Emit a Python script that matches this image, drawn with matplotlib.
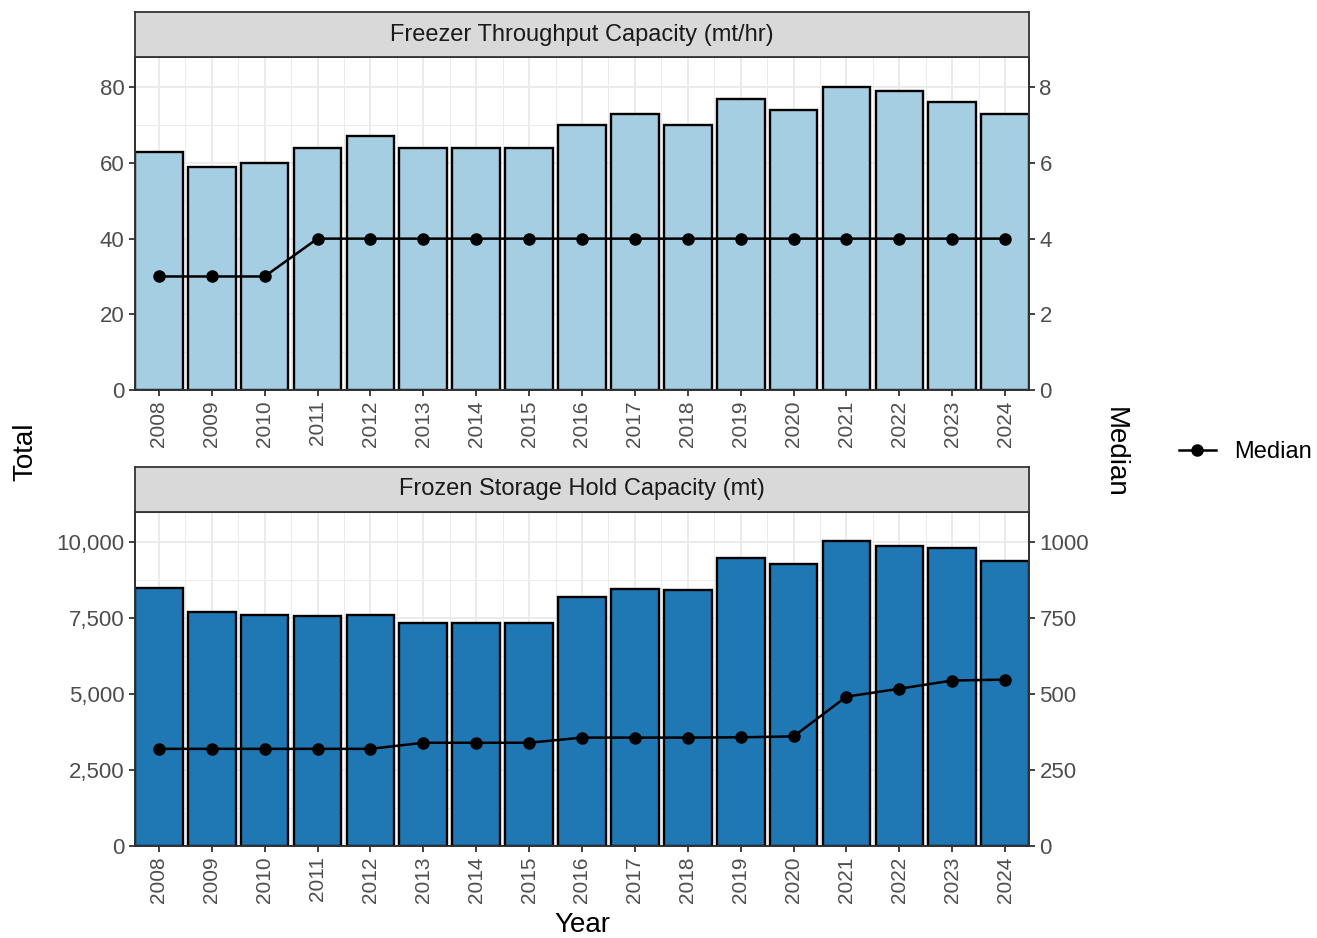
import matplotlib
matplotlib.use("Agg")
import matplotlib.pyplot as plt
from matplotlib.ticker import FuncFormatter, MultipleLocator
from matplotlib.lines import Line2D

plt.rcParams["font.family"] = ["Liberation Sans", "DejaVu Sans"]

years = list(range(2008, 2025))
freezer_total = [63, 59, 60, 64, 67, 64, 64, 64, 70, 73, 70, 77, 74, 80, 79, 76, 73]
freezer_median = [3, 3, 3, 4, 4, 4, 4, 4, 4, 4, 4, 4, 4, 4, 4, 4, 4]
storage_total = [8500, 7700, 7600, 7560, 7600, 7350, 7350, 7350, 8200, 8450, 8420,
                 9500, 9300, 10030, 9870, 9830, 9380]
storage_median = [320, 320, 320, 320, 320, 340, 340, 340, 357, 357, 357, 358, 361,
                  492, 518, 545, 548]

panels = [
    ("Freezer Throughput Capacity (mt/hr)", freezer_total, freezer_median,
     "#A6CEE3", 88, 20, 10),
    ("Frozen Storage Hold Capacity (mt)", storage_total, storage_median,
     "#1F78B4", 11000, 2500, 10),
]

W, H = 1317, 938
fig = plt.figure(figsize=(W / 100, H / 100), dpi=100)

grey = "#4D4D4D"
# pixel boxes: (left, right, strip_top, plot_top, plot_bottom)
boxes = [(135, 1029, 12, 57, 390), (135, 1029, 467, 512, 846)]

for (title, tot, med, col, ymax, step, ratio), (l, r, st, pt, pb) in zip(panels, boxes):
    ax = fig.add_axes([l / W, 1 - pb / H, (r - l) / W, (pb - pt) / H])
    ax.bar(years, tot, width=0.9, color=col, edgecolor="black", linewidth=1.7, zorder=3)
    ax.set_xlim(2007.55, 2024.45)
    ax.set_ylim(0, ymax)
    ax.yaxis.set_major_locator(MultipleLocator(step))
    ax.yaxis.set_minor_locator(MultipleLocator(step / 2))
    ax.set_xticks(years)
    ax.set_xticks([y + 0.5 for y in years[:-1]], minor=True)
    ax.set_xticklabels([str(y) for y in years], rotation=90, fontsize=15, color=grey)
    ax.grid(which="major", color="#EBEBEB", linewidth=1.4, zorder=0)
    ax.grid(which="minor", color="#EBEBEB", linewidth=0.7, zorder=0)
    ax.set_axisbelow(True)
    ax.tick_params(axis="y", which="major", labelsize=16, labelcolor=grey, color="#333333",
                   length=4, width=1.3)
    ax.tick_params(axis="x", which="major", color="#333333", length=4, width=1.3)
    ax.tick_params(which="minor", length=0)
    if ymax > 1000:
        ax.yaxis.set_major_formatter(FuncFormatter(lambda v, p: f"{v:,.0f}"))
    for s in ax.spines.values():
        s.set_color("#333333")
        s.set_linewidth(1.3)

    ax2 = ax.twinx()
    ax2.set_ylim(0, ymax / ratio)
    ax2.yaxis.set_major_locator(MultipleLocator(step / ratio))
    ax2.plot(years, med, color="black", marker="o", markersize=8, linewidth=1.8, zorder=5)
    ax2.tick_params(axis="y", labelsize=16, labelcolor=grey, color="#333333", length=4,
                    width=1.3)
    for s in ax2.spines.values():
        s.set_color("#333333")
        s.set_linewidth(1.3)

    # facet strip
    sax = fig.add_axes([l / W, 1 - pt / H, (r - l) / W, (pt - st) / H])
    sax.set_facecolor("#D9D9D9")
    sax.set_xticks([])
    sax.set_yticks([])
    for s in sax.spines.values():
        s.set_color("#333333")
        s.set_linewidth(1.3)
    sax.text(0.5, 0.5, title, ha="center", va="center", fontsize=17, color="#1A1A1A",
             transform=sax.transAxes)

fig.text(25 / W, 1 - 452 / H, "Total", rotation=90, ha="center", va="center", fontsize=20)
fig.text(1115 / W, 1 - 452 / H, "Median", rotation=-90, ha="center", va="center", fontsize=20)
fig.text(582 / W, 1 - 925 / H, "Year", ha="center", va="center", fontsize=20)

handle = Line2D([], [], color="black", marker="o", markersize=8, linewidth=1.8)
fig.legend([handle], ["Median"], loc="center left", bbox_to_anchor=(1179 / W, 1 - 452 / H),
           frameon=False, fontsize=17, handlelength=1.55, handletextpad=0.8,
           borderpad=0, borderaxespad=0)

fig.savefig("out.png", dpi=100)
